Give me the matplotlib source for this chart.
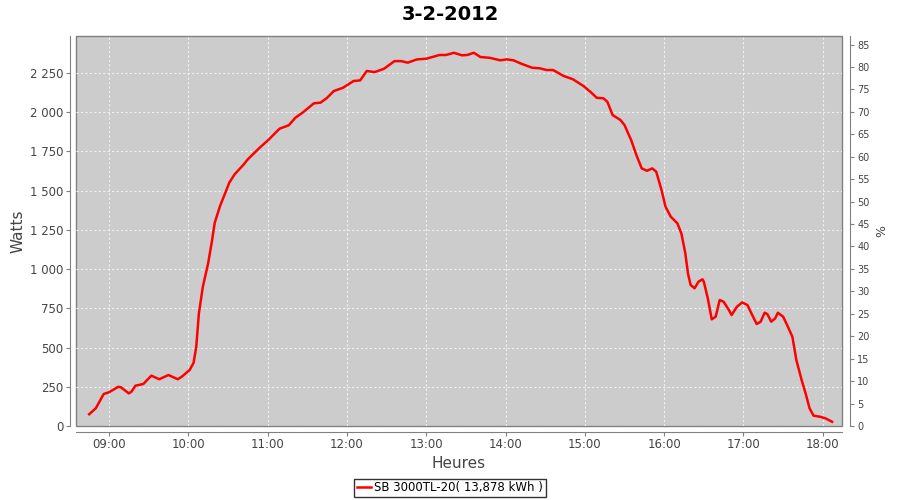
import matplotlib
matplotlib.use("Agg")
import matplotlib.pyplot as plt
import matplotlib.dates as mdates
from matplotlib.ticker import FuncFormatter, MultipleLocator
import pandas as pd

day = "2012-02-03"
times = ["08:45", "08:50", "08:56", "09:00", "09:07", "09:09", "09:15", "09:17", "09:20", "09:26",
         "09:32", "09:38", "09:45", "09:52", "09:55", "10:01", "10:04", "10:06", "10:08", "10:11",
         "10:15", "10:18", "10:20", "10:24", "10:28", "10:31", "10:35", "10:42", "10:45", "10:54",
         "11:01", "11:09", "11:16", "11:21", "11:27", "11:35", "11:40", "11:45", "11:50", "11:57",
         "12:05", "12:10", "12:15", "12:21", "12:28", "12:36", "12:41", "12:46", "12:53", "13:00",
         "13:10", "13:15", "13:21", "13:27", "13:31", "13:36", "13:41", "13:48", "13:56", "14:01",
         "14:06", "14:12", "14:20", "14:26", "14:31", "14:36", "14:44", "14:51", "14:59", "15:05",
         "15:09", "15:14", "15:17", "15:21", "15:27", "15:30", "15:35", "15:39", "15:43", "15:47",
         "15:51", "15:54", "15:58", "16:01", "16:05", "16:10", "16:13", "16:16", "16:18", "16:20",
         "16:23", "16:26", "16:29", "16:30", "16:33", "16:36", "16:39", "16:42", "16:45", "16:49",
         "16:51", "16:55", "16:59", "17:03", "17:06", "17:10", "17:13", "17:16", "17:18", "17:21",
         "17:24", "17:26", "17:30", "17:33", "17:37", "17:40", "17:44", "17:47", "17:50", "17:53",
         "17:58", "18:02", "18:07"]
watts = [75, 113, 204, 215, 250, 247, 208, 219, 257, 268,
         321, 298, 325, 298, 314, 357, 403, 505, 718, 888,
         1037, 1185, 1296, 1402, 1487, 1551, 1604, 1668, 1700, 1774,
         1827, 1895, 1917, 1965, 2001, 2057, 2061, 2092, 2135, 2156,
         2199, 2203, 2263, 2256, 2277, 2326, 2326, 2316, 2337, 2341,
         2365, 2365, 2379, 2363, 2365, 2379, 2352, 2347, 2331, 2337,
         2331, 2309, 2284, 2280, 2269, 2269, 2231, 2210, 2167, 2124,
         2092, 2089, 2067, 1982, 1950, 1918, 1823, 1727, 1642, 1627,
         1642, 1621, 1504, 1398, 1334, 1292, 1228, 1101, 973, 899,
         878, 920, 935, 920, 814, 680, 697, 803, 792, 739,
         707, 760, 788, 771, 718, 650, 665, 722, 714, 665,
         686, 722, 697, 644, 569, 421, 293, 208, 113, 66,
         59, 49, 27]
label = "SB 3000TL-20( 13,878 kWh )"

t = pd.to_datetime([day + " " + s for s in times])

grey = "#808080"
txt = "#444444"

fig = plt.figure(figsize=(9, 5), dpi=100)
# plot area: x 76..842 px, y 36..426 px
ax = fig.add_axes([0.0844, 0.148, 0.8511, 0.78])
ax.set_facecolor("#cccccc")
ax.patch.set_edgecolor(grey)
ax.patch.set_linewidth(1.0)

line, = ax.plot(t, watts, color="#ff0000", lw=1.8, label=label)

ax.set_xlim(pd.Timestamp(day + " 08:35"), pd.Timestamp(day + " 18:14:30"))
ax.set_ylim(0, 2486)
ax.yaxis.set_major_locator(MultipleLocator(250))
ax.yaxis.set_major_formatter(FuncFormatter(lambda v, p: f"{int(v):,}".replace(",", " ")))
ax.xaxis.set_major_locator(mdates.HourLocator())
ax.xaxis.set_major_formatter(mdates.DateFormatter("%H:%M"))
ax.grid(True, color="#f0f0f0", ls=(0, (2, 2)), lw=0.8)

for s in ["top", "right"]:
    ax.spines[s].set_visible(False)
ax.spines["left"].set_position(("outward", 4))
ax.spines["bottom"].set_position(("outward", 4))
for s in ["left", "bottom"]:
    ax.spines[s].set_color(grey)
ax.tick_params(colors=grey, labelcolor=txt, labelsize=8.5, length=3, pad=2)

ax.set_ylabel("Watts", fontsize=11, color=txt, labelpad=3)
ax.set_xlabel("Heures", fontsize=11, color=txt, labelpad=3)

ax2 = ax.twinx()
ax2.set_ylim(0, 86.9)
ax2.yaxis.set_major_locator(MultipleLocator(5))
for s in ["top", "left", "bottom"]:
    ax2.spines[s].set_visible(False)
ax2.spines["right"].set_position(("outward", 6))
ax2.spines["right"].set_color(grey)
ax2.tick_params(colors=grey, labelcolor=txt, labelsize=7, length=3, pad=2)
ax2.set_ylabel("%", fontsize=9, color=txt, labelpad=4)

fig.suptitle("3-2-2012", fontsize=14, fontweight="bold", y=0.99)

leg = fig.legend(handles=[line], loc="center", bbox_to_anchor=(0.5, 0.024),
                 fontsize=8.5, frameon=True, fancybox=False, handlelength=1.2,
                 handletextpad=0.3, borderpad=0.25, borderaxespad=0)
leg.get_frame().set_edgecolor("black")
leg.get_frame().set_linewidth(1.0)

fig.savefig("out.png", dpi=100)
